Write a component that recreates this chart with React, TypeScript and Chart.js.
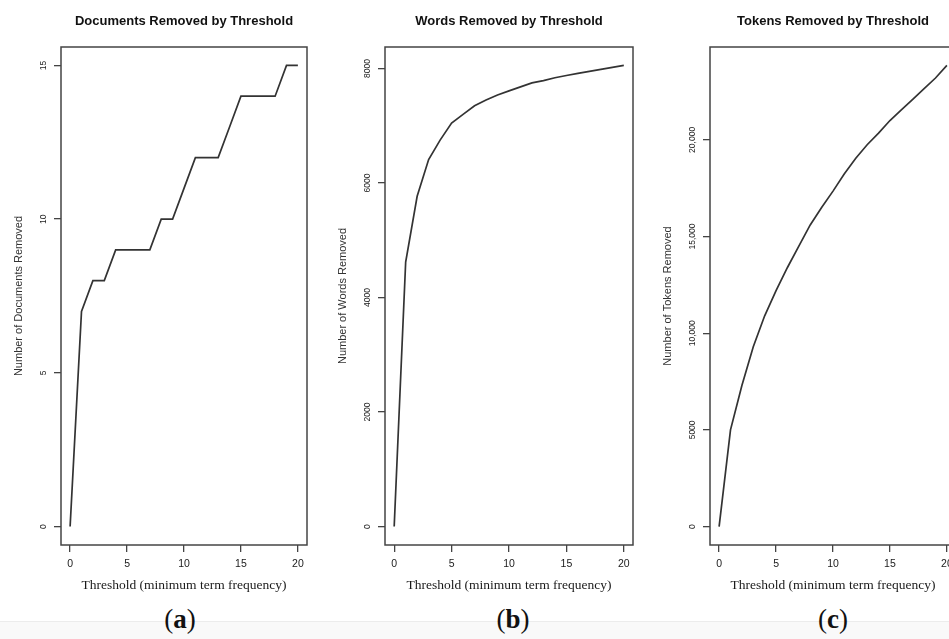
import React, { useEffect, useRef } from "react";
import { Chart, registerables } from "chart.js";

Chart.register(...registerables);

// ---- data ----
const thresholds = [0, 1, 2, 3, 4, 5, 6, 7, 8, 9, 10, 11, 12, 13, 14, 15, 16, 17, 18, 19, 20];
const docsRemoved = [0, 7, 8, 8, 9, 9, 9, 9, 10, 10, 11, 12, 12, 12, 13, 14, 14, 14, 14, 15, 15];
const wordsRemoved = [0, 4620, 5770, 6410, 6750, 7050, 7200, 7350, 7450, 7540, 7610, 7680, 7750, 7790, 7840, 7880, 7915, 7950, 7985, 8020, 8055];
const tokensRemoved = [0, 5000, 7300, 9300, 10900, 12200, 13400, 14500, 15600, 16500, 17350, 18250, 19050, 19750, 20350, 21000, 21550, 22100, 22650, 23200, 23850];

const xTickValues = [0, 5, 10, 15, 20];
const xTickLabels = ["0", "5", "10", "15", "20"];
const docsTickValues = [0, 5, 10, 15];
const docsTickLabels = ["0", "5", "10", "15"];
const wordsTickValues = [0, 2000, 4000, 6000, 8000];
const wordsTickLabels = ["0", "2000", "4000", "6000", "8000"];
const tokensTickValues = [0, 5000, 10000, 15000, 20000];
const tokensTickLabels = ["0", "5000", "10,000", "15,000", "20,000"];

const panelTitles = ["Documents Removed by Threshold", "Words Removed by Threshold", "Tokens Removed by Threshold"];
const yTitles = ["Number of Documents Removed", "Number of Words Removed", "Number of Tokens Removed"];
const xTitle = "Threshold (minimum term frequency)";
const captions = ["a", "b", "c"];

const SANS = "'Liberation Sans', Arial, sans-serif";
const SERIF = "'Liberation Serif', 'Times New Roman', serif";

const boxPlugin = {
  id: "rbox",
  afterDatasetsDraw(chart: any) {
    const { ctx, chartArea: a } = chart;
    ctx.save();
    ctx.strokeStyle = "#444";
    ctx.lineWidth = 1.5;
    ctx.strokeRect(a.left, a.top, a.right - a.left, a.bottom - a.top);
    ctx.restore();
  },
};

function padRange(vals: number[]) {
  const lo = Math.min(...vals);
  const hi = Math.max(...vals);
  const r = hi - lo;
  return { min: lo - 0.04 * r, max: hi + 0.04 * r };
}

type PanelProps = {
  left: number;
  width: number;
  padRight: number;
  title: string;
  yTitle: string;
  values: number[];
  tickValues: number[];
  tickLabels: string[];
  tickPad: number;
};

function Panel(p: PanelProps) {
  const ref = useRef<HTMLCanvasElement | null>(null);
  useEffect(() => {
    if (!ref.current) return;
    const xr = padRange(thresholds);
    const yr = padRange(p.values);
    const chart = new Chart(ref.current, {
      type: "line",
      data: {
        datasets: [
          {
            data: thresholds.map((t, i) => ({ x: t, y: p.values[i] })),
            borderColor: "#333",
            borderWidth: 1.7,
            pointRadius: 0,
            tension: 0,
            fill: false,
          },
        ],
      },
      options: {
        animation: false,
        responsive: false,
        devicePixelRatio: 1,
        layout: { padding: { left: 0, right: p.padRight, top: 0, bottom: 5 } },
        plugins: {
          legend: { display: false },
          tooltip: { enabled: false },
          title: {
            display: true,
            text: p.title,
            fullSize: false,
            color: "#111",
            font: { family: SANS, size: 13, weight: "bold" },
            padding: { top: 13.2, bottom: 18.2 },
          },
        },
        scales: {
          x: {
            type: "linear",
            min: xr.min,
            max: xr.max,
            afterBuildTicks: (s: any) => {
              s.ticks = xTickValues.map((v) => ({ value: v }));
            },
            afterFit: (s: any) => {
              s.height = 50;
            },
            ticks: {
              autoSkip: false,
              maxRotation: 0,
              minRotation: 0,
              padding: 5.7,
              color: "#1a1a1a",
              font: { family: SANS, size: 10.5 },
              callback: (v: any) => xTickLabels[xTickValues.indexOf(Number(v))],
            },
            grid: { drawOnChartArea: false, drawTicks: true, tickLength: 7, color: "#444", lineWidth: 1.3 },
            border: { display: false },
            title: {
              display: true,
              text: xTitle,
              color: "#1a1a1a",
              font: { family: SERIF, size: 13.5 },
              padding: { top: 0, bottom: 1.9 },
            },
          },
          y: {
            type: "linear",
            min: yr.min,
            max: yr.max,
            afterBuildTicks: (s: any) => {
              s.ticks = p.tickValues.map((v) => ({ value: v }));
            },
            afterFit: (s: any) => {
              s.width = 61;
            },
            ticks: {
              autoSkip: false,
              minRotation: 90,
              maxRotation: 90,
              crossAlign: "center",
              padding: p.tickPad,
              color: "#222",
              font: { family: SANS, size: 8.5 },
              callback: (v: any) => p.tickLabels[p.tickValues.indexOf(Number(v))],
            },
            grid: { drawOnChartArea: false, drawTicks: true, tickLength: 7, color: "#444", lineWidth: 1.3 },
            border: { display: false },
            title: {
              display: true,
              text: p.yTitle,
              color: "#333",
              font: { family: SANS, size: 11 },
              padding: { top: 12, bottom: 0 },
            },
          },
        },
      } as any,
      plugins: [boxPlugin],
    });
    return () => chart.destroy();
  }, []);
  return (
    <canvas
      ref={ref}
      width={p.width}
      height={600}
      style={{ position: "absolute", left: p.left, top: 0, width: p.width, height: 600 }}
    />
  );
}

const panels = [
  { left: 0, width: 320, padRight: 13, values: docsRemoved, tickValues: docsTickValues, tickLabels: docsTickLabels, tickPad: 5.3, captionX: 180 },
  { left: 324, width: 320, padRight: 11, values: wordsRemoved, tickValues: wordsTickValues, tickLabels: wordsTickLabels, tickPad: 0.5, captionX: 513 },
  { left: 649, width: 320, padRight: 13, values: tokensRemoved, tickValues: tokensTickValues, tickLabels: tokensTickLabels, tickPad: -3, captionX: 833 },
];

export default function App() {
  return (
    <div
      style={{
        position: "fixed",
        left: 0,
        top: 0,
        width: 949,
        height: 639,
        overflow: "hidden",
        background: "#fff",
      }}
    >
      <div
        style={{
          position: "absolute",
          left: 0,
          top: 621,
          width: 949,
          height: 18,
          background: "#f9f9f9",
          borderTop: "1px solid #ececec",
        }}
      />
      {panels.map((pn, i) => (
        <Panel
          key={i}
          left={pn.left}
          width={pn.width}
          padRight={pn.padRight}
          title={panelTitles[i]}
          yTitle={yTitles[i]}
          values={pn.values}
          tickValues={pn.tickValues}
          tickLabels={pn.tickLabels}
          tickPad={pn.tickPad}
        />
      ))}
      {panels.map((pn, i) => (
        <div
          key={"c" + i}
          style={{
            position: "absolute",
            left: pn.captionX - 50,
            top: 606,
            width: 100,
            textAlign: "center",
            fontFamily: SERIF,
            fontSize: 27,
            lineHeight: "27px",
            color: "#111",
          }}
        >
          (<b>{captions[i]}</b>)
        </div>
      ))}
    </div>
  );
}
